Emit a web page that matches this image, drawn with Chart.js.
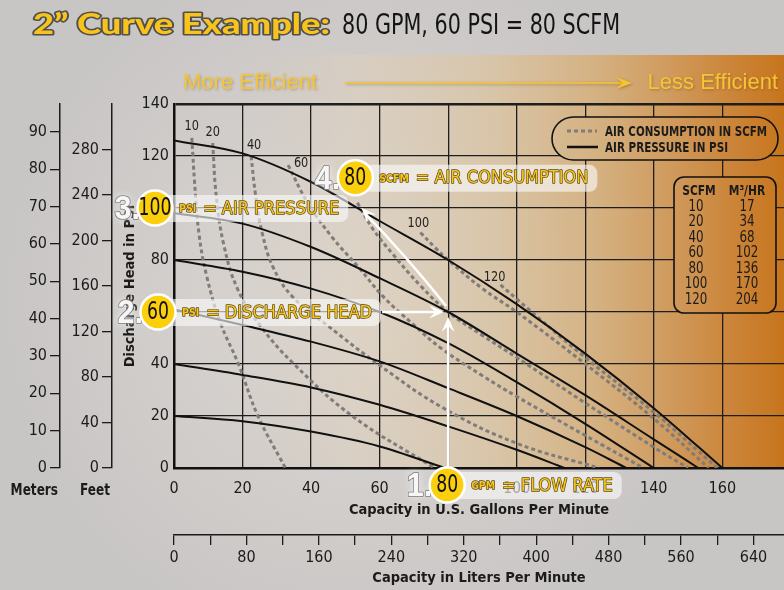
<!DOCTYPE html>
<html>
<head>
<meta charset="utf-8">
<title>2" Curve Example</title>
<script src="https://cdn.jsdelivr.net/npm/chart.js@4/dist/chart.umd.min.js"></script>
<style>
  html, body { margin: 0; padding: 0; background: #c8c5c5; }
  #wrap { width: 784px; height: 590px; position: relative; }
  canvas { display: block; }
</style>
</head>
<body>
<div id="wrap"><canvas id="curve" width="784" height="590"></canvas></div>
<script>
// ---------------- data ----------------
const GPM_MAX = 178;          // visible capacity range, U.S. GPM
const PSI_MAX = 140;          // discharge head range, PSI
const FT_MAX = 320;           // same head in feet
const M_MAX = 97.5;           // same head in meters
const LPM_PER_GPM = 3.785;

const gpmTicks   = [0, 20, 40, 60, 80, 100, 120, 140, 160];
const psiTicks   = [0, 20, 40, 60, 80, 100, 120, 140];
const feetTicks  = [0, 40, 80, 120, 160, 200, 240, 280];
const meterTicks = [0, 10, 20, 30, 40, 50, 60, 70, 80, 90];
const literTicks = [0, 40, 80, 120, 160, 200, 240, 280, 320, 360, 400, 440, 480, 520, 560, 600, 640];
const literLabelEvery = 80;

// Air pressure curves (solid), points are [GPM, PSI head]
const airPressureLevels = [20, 40, 60, 80, 100, 120];
const air20  = [[0, 20], [20, 18], [40, 14], [60, 8.3], [79, 0]];
const air40  = [[0, 40], [20, 35.8], [40, 31], [60, 24.3], [80, 16], [100, 7], [114, 0]];
const air60  = [[0, 61], [20, 55], [40, 48.6], [60, 41], [80, 30.7], [100, 20], [120, 8], [132, 0]];
const air80  = [[0, 80], [20, 75.5], [40, 69], [60, 60], [80, 48], [100, 33], [120, 17], [140, 0]];
const air100 = [[0, 98], [20, 94], [40, 85], [60, 73], [80, 60], [100, 44], [120, 28], [140, 11], [153, 0]];
const air120 = [[0, 126], [20, 121], [40, 110], [60, 95], [80, 80], [100, 63], [120, 44], [140, 23], [160, 0]];

// Air consumption curves (dotted), points are [GPM, PSI head]
const scfmLevels = [10, 20, 40, 60, 80, 100, 120];
const scfm10  = [[5.2, 127], [6, 110], [7.3, 90], [9.5, 74], [13.5, 56], [18.8, 40], [24.5, 20], [32.5, 0]];
const scfm20  = [[11.3, 125], [12.3, 105], [14.5, 86], [18.5, 69], [25, 55], [35, 40], [52, 20], [76, 0]];
const scfm40  = [[22.5, 120], [23.8, 105], [25.8, 90], [29, 77], [34.5, 66], [44.6, 55], [60, 39.5], [78, 23.5], [100, 9.5], [124, 0]];
const scfm60  = [[33.3, 116.5], [39, 102], [46, 89], [54, 77], [61, 66], [70, 55], [78, 46], [90, 35.5], [100, 27.5], [120, 12.5], [137, 0]];
const scfm80  = [[53.5, 102], [58, 92], [64, 82], [72, 70], [80, 60], [90, 51], [100, 42.5], [120, 25], [140, 8], [150, 0]];
const scfm100 = [[71.9, 90.6], [76, 85], [80, 80], [90, 69], [100, 60], [120, 40], [140, 19], [156, 0]];
const scfm120 = [[95.3, 70.4], [100, 65], [120, 42.5], [140, 21.5], [158.5, 0]];

// SCFM to cubic metres per hour table
const tableScfm = [10, 20, 40, 60, 80, 100, 120];
const tableM3hr = [17, 34, 68, 102, 136, 170, 204];

// Worked example: 80 GPM at 60 PSI head needs 100 PSI air and 80 SCFM
const exampleGpm = 80;
const exampleHeadPsi = 60;
const exampleAirPsi = 100;
const exampleScfm = 80;

const legendItems = ['AIR CONSUMPTION IN SCFM', 'AIR PRESSURE IN PSI'];

// ---------------- styles ----------------
const NARROW = "'Liberation Sans Narrow', 'DejaVu Sans Condensed', 'Liberation Sans', Arial, sans-serif";
const SQUEEZE = 0.84;          // horizontal squeeze for hand-drawn condensed text
const INK = '#1b1b1b';
const DOT_COLOR = '#7f7c7a';
const YELLOW = '#f6c61e';
const YELLOW_EDGE = '#5d4a1c';

const airSets  = [air20, air40, air60, air80, air100, air120];
const scfmSets = [scfm10, scfm20, scfm40, scfm60, scfm80, scfm100, scfm120];
// label nudges for the SCFM curve names, relative to each curve's first point
const scfmLabelNudge = { 10: [0, -11], 20: [0, -11], 40: [3, -11], 60: [13, -2], 100: [-2, -9], 120: [-6, -8] };

const toPts = arr => arr.map(([x, y]) => ({ x, y }));

const datasets = [];
airSets.forEach((set, i) => datasets.push({
  label: airPressureLevels[i] + ' PSI air',
  data: toPts(set),
  borderColor: '#111',
  borderWidth: 2,
  pointRadius: 0,
  cubicInterpolationMode: 'monotone',
  fill: false,
  xAxisID: 'x', yAxisID: 'y'
}));
scfmSets.forEach((set, i) => datasets.push({
  label: scfmLevels[i] + ' SCFM',
  data: toPts(set),
  borderColor: DOT_COLOR,
  borderWidth: 3,
  borderDash: [4, 3],
  borderCapStyle: 'butt',
  pointRadius: 0,
  tension: 0.4,
  fill: false,
  xAxisID: 'x', yAxisID: 'y'
}));

// ---------------- drawing helpers ----------------
function paintBackground(ctx, w, h) {
  ctx.fillStyle = '#c8c5c5';
  ctx.fillRect(0, 0, w, h);
  const glow = ctx.createRadialGradient(360, 300, 20, 360, 300, 360);
  glow.addColorStop(0, 'rgba(228,222,214,0.75)');
  glow.addColorStop(1, 'rgba(228,222,214,0)');
  ctx.fillStyle = glow;
  ctx.fillRect(0, 0, w, h);
  const band = ctx.createLinearGradient(0, 0, w, 0);
  band.addColorStop(0.00, 'rgba(205,200,198,0)');
  band.addColorStop(0.26, 'rgba(208,202,198,0)');
  band.addColorStop(0.45, 'rgba(221,207,188,0.55)');
  band.addColorStop(0.62, 'rgba(218,197,165,0.85)');
  band.addColorStop(0.76, 'rgba(213,176,126,0.95)');
  band.addColorStop(0.87, 'rgba(207,150,86,1)');
  band.addColorStop(0.94, 'rgba(203,131,54,1)');
  band.addColorStop(1.00, 'rgba(199,117,28,1)');
  ctx.fillStyle = band;
  ctx.fillRect(0, 55, w, 414);
}

// condensed text: squeezes horizontally around the anchor
function narrowText(ctx, text, x, y, align, k, stroke) {
  const w = ctx.measureText(text).width * k;
  const left = align === 'center' ? x - w / 2 : align === 'right' ? x - w : x;
  ctx.save();
  ctx.textAlign = 'left';
  ctx.translate(left, y);
  ctx.scale(k, 1);
  if (stroke) ctx.strokeText(text, 0, 0);
  ctx.fillText(text, 0, 0);
  ctx.restore();
  return w;
}

function fitText(ctx, text, x, y, width, stroke) {
  const m = ctx.measureText(text).width;
  return narrowText(ctx, text, x, y, 'left', width / m, stroke);
}

function arrowHead(ctx, tx, ty, ang, len, half) {
  const c = Math.cos(ang), s = Math.sin(ang);
  const pt = (a, b) => [tx - a * c + b * s, ty - a * s - b * c];
  ctx.beginPath();
  ctx.moveTo(tx, ty);
  ctx.lineTo(...pt(len, half));
  ctx.lineTo(...pt(len * 0.6, 0));
  ctx.lineTo(...pt(len, -half));
  ctx.closePath();
  ctx.fill();
}

function drawCallout(ctx, step, value, unit, text, cx, cy) {
  const UNIT_FONT = 'bold 11px ' + NARROW;
  const MAIN_FONT = '18px ' + NARROW;
  const MAIN_K = 1.0;
  ctx.save();
  ctx.font = UNIT_FONT;
  const uw = ctx.measureText(unit).width * 0.95;
  ctx.font = MAIN_FONT;
  const mw = ctx.measureText(text).width * MAIN_K;
  const ux = cx + 24, mx = ux + uw + 7, right = mx + mw + 9;
  ctx.fillStyle = 'rgba(250,250,250,0.62)';
  ctx.beginPath();
  ctx.roundRect(cx, cy - 13, right - cx, 27, 8);
  ctx.fill();

  ctx.textBaseline = 'middle';
  ctx.lineJoin = 'round';
  ctx.strokeStyle = YELLOW_EDGE;
  ctx.fillStyle = YELLOW;
  ctx.font = UNIT_FONT;
  ctx.lineWidth = 1.5;
  narrowText(ctx, unit, ux, cy + 1, 'left', 0.95, true);
  ctx.font = MAIN_FONT;
  ctx.lineWidth = 1.4;
  narrowText(ctx, text, mx, cy + 1, 'left', MAIN_K, true);

  // step numeral with a soft halo
  ctx.font = 'bold 34px "Liberation Sans", Arial, sans-serif';
  ctx.shadowColor = 'rgba(255,255,255,0.85)';
  ctx.shadowBlur = 8;
  ctx.fillStyle = '#f7f7f7';
  narrowText(ctx, step, cx - 15, cy + 2, 'right', 0.9, false);
  ctx.shadowBlur = 0;
  ctx.strokeStyle = '#7c7c7c';
  ctx.lineWidth = 1.6;
  narrowText(ctx, step, cx - 15, cy + 2, 'right', 0.9, true);

  // numbered disc
  ctx.beginPath();
  ctx.arc(cx, cy, 17.5, 0, Math.PI * 2);
  ctx.fillStyle = '#fccf0c';
  ctx.fill();
  ctx.lineWidth = 2.5;
  ctx.strokeStyle = '#ffffff';
  ctx.stroke();
  ctx.fillStyle = '#111';
  ctx.font = '24px ' + NARROW;
  narrowText(ctx, String(value), cx, cy + 1, 'center', 0.8, false);
  ctx.restore();
  return right;
}

// ---------------- plugins ----------------
const backdrop = {
  id: 'backdrop',
  beforeDraw(chart) {
    const { ctx, width, height, chartArea: ca } = chart;
    ctx.save();
    paintBackground(ctx, width, height);

    // heading
    ctx.textBaseline = 'alphabetic';
    ctx.font = '900 28px Lato, "DejaVu Sans", sans-serif';
    ctx.lineJoin = 'round';
    ctx.lineWidth = 3;
    ctx.strokeStyle = '#4f4f4f';
    ctx.fillStyle = '#f7c31c';
    fitText(ctx, '2\u201D Curve Example:', 33, 34, 297, true);
    ctx.fillStyle = '#141414';
    ctx.font = '28px ' + NARROW;
    fitText(ctx, '80 GPM, 60 PSI = 80 SCFM', 342, 34, 278, false);

    // efficiency banner
    const by = ca.top - 21;
    ctx.shadowColor = 'rgba(70,45,10,0.35)';
    ctx.shadowBlur = 3;
    ctx.shadowOffsetX = 1;
    ctx.shadowOffsetY = 1;
    ctx.fillStyle = '#f7c434';
    ctx.strokeStyle = '#f7c434';
    ctx.font = '22px "Liberation Sans", Arial, sans-serif';
    ctx.textBaseline = 'middle';
    ctx.textAlign = 'left';
    ctx.fillText('More Efficient', ca.left + 9, by);
    ctx.textAlign = 'right';
    ctx.fillText('Less Efficient', ca.right - 6, by);
    ctx.lineWidth = 1.6;
    ctx.beginPath();
    ctx.moveTo(ca.left + 171, by);
    ctx.lineTo(ca.left + 450, by);
    ctx.stroke();
    arrowHead(ctx, ca.left + 458, by, 0, 16, 6);
    ctx.restore();
  },
  afterDraw(chart) {
    const { ctx, chartArea: ca, scales } = chart;
    const X = scales.x, Y = scales.y;
    const px = (g, p) => [X.getPixelForValue(g), Y.getPixelForValue(p)];
    ctx.save();

    // unit captions under the head axes
    ctx.fillStyle = INK;
    ctx.font = 'bold 16px ' + NARROW;
    ctx.textBaseline = 'middle';
    narrowText(ctx, 'Meters', scales.yM.right - 2, ca.bottom + 23, 'right', SQUEEZE, false);
    narrowText(ctx, 'Feet', scales.yFt.right - 2, ca.bottom + 23, 'right', SQUEEZE, false);

    // SCFM curve names
    ctx.font = '14px ' + NARROW;
    ctx.fillStyle = '#222';
    scfmSets.forEach((set, i) => {
      const nudge = scfmLabelNudge[scfmLevels[i]];
      if (!nudge) return;
      const [x0, y0] = px(set[0][0], set[0][1]);
      narrowText(ctx, String(scfmLevels[i]), x0 + nudge[0], y0 + nudge[1], 'center', 0.9, false);
    });

    // legend capsule and table, filled with the backdrop so grid stops at their edges
    const pill = new Path2D();
    pill.roundRect(ca.right - 232, ca.top + 13, 226, 43, 21.5);
    const table = new Path2D();
    table.roundRect(ca.right - 110, ca.top + 73, 102, 136, 10);
    [pill, table].forEach(p => {
      ctx.save();
      ctx.clip(p);
      paintBackground(ctx, chart.width, chart.height);
      ctx.restore();
      ctx.lineWidth = 1.6;
      ctx.strokeStyle = '#111';
      ctx.stroke(p);
    });

    const lx = ca.right - 217, ly1 = ca.top + 27, ly2 = ca.top + 43;
    ctx.lineWidth = 3;
    ctx.strokeStyle = DOT_COLOR;
    ctx.setLineDash([4, 3]);
    ctx.beginPath(); ctx.moveTo(lx, ly1); ctx.lineTo(lx + 30, ly1); ctx.stroke();
    ctx.setLineDash([]);
    ctx.lineWidth = 2.5;
    ctx.strokeStyle = '#111';
    ctx.beginPath(); ctx.moveTo(lx, ly2); ctx.lineTo(lx + 31, ly2); ctx.stroke();
    ctx.font = 'bold 14px ' + NARROW;
    ctx.fillStyle = INK;
    fitText(ctx, legendItems[0], lx + 38, ly1 + 1, 162, false);
    fitText(ctx, legendItems[1], lx + 38, ly2 + 1, 123, false);

    const c1 = ca.right - 88, c2 = ca.right - 37;
    ctx.font = 'bold 14px ' + NARROW;
    narrowText(ctx, 'SCFM', c1 + 3, ca.top + 87, 'center', 0.85, false);
    narrowText(ctx, 'M\u00B3/HR', c2, ca.top + 87, 'center', 0.85, false);
    ctx.font = '15px ' + NARROW;
    tableScfm.forEach((v, i) => {
      const ry = ca.top + 103 + i * 15.5;
      narrowText(ctx, String(v), c1, ry, 'center', 0.88, false);
      narrowText(ctx, String(tableM3hr[i]), c2, ry, 'center', 0.88, false);
    });

    // worked example: arrows
    const [ex, ey] = px(exampleGpm, exampleHeadPsi);
    ctx.strokeStyle = '#ffffff';
    ctx.fillStyle = '#ffffff';
    ctx.lineWidth = 2.5;
    ctx.beginPath(); ctx.moveTo(ex, ca.bottom + 2); ctx.lineTo(ex, ey + 12); ctx.stroke();
    arrowHead(ctx, ex, ey + 5, -Math.PI / 2, 15, 6.5);

    const headY = Y.getPixelForValue(exampleHeadPsi);
    const headX = Y.left + 46;
    const airY = Y.getPixelForValue(exampleAirPsi);
    const airX = Y.left + 43;
    const s0 = px(scfm80[0][0], scfm80[0][1]);
    const ctrl = px(67.5, 82);
    const tip = [s0[0] + 4, s0[1] + 5];
    ctx.beginPath();
    ctx.moveTo(ex - 2, ey - 6);
    ctx.quadraticCurveTo(ctrl[0], ctrl[1], tip[0] + 4, tip[1] + 6);
    ctx.stroke();
    arrowHead(ctx, tip[0], tip[1], Math.atan2(tip[1] - ctrl[1], tip[0] - ctrl[0]), 15, 6);

    // callouts
    drawCallout(ctx, '1.', exampleGpm, 'GPM', '= FLOW RATE', ex - 1, ca.bottom + 17);
    const r2 = drawCallout(ctx, '2.', exampleHeadPsi, 'PSI', '= DISCHARGE HEAD', headX, headY);
    ctx.strokeStyle = '#ffffff';
    ctx.fillStyle = '#ffffff';
    ctx.lineWidth = 2.5;
    ctx.beginPath(); ctx.moveTo(r2 + 1, headY); ctx.lineTo(ex - 12, headY); ctx.stroke();
    arrowHead(ctx, ex - 4, headY, 0, 15, 6.5);
    drawCallout(ctx, '3.', exampleAirPsi, 'PSI', '= AIR PRESSURE', airX, airY);
    drawCallout(ctx, '4.', exampleScfm, 'SCFM', '= AIR CONSUMPTION', s0[0] - 2, s0[1] - 25);
    ctx.restore();
  }
};

const keepTicks = list => scale => { scale.ticks = list.map(v => ({ value: v })); };
const tickFont = { family: NARROW, size: 16 };
const titleFont = { family: NARROW, size: 14.5, weight: 'bold' };

new Chart(document.getElementById('curve'), {
  type: 'line',
  data: { datasets },
  options: {
    responsive: false,
    animation: false,
    devicePixelRatio: 1,
    events: [],
    layout: { padding: { top: 104, left: 0, right: 0, bottom: 0 } },
    plugins: { legend: { display: false }, tooltip: { enabled: false } },
    scales: {
      x: {
        type: 'linear', position: 'bottom', weight: 0, min: 0, max: GPM_MAX,
        afterBuildTicks: keepTicks(gpmTicks),
        afterFit: s => { s.height = 67; },
        grid: { color: '#1e1e1e', lineWidth: 1.3, drawTicks: false },
        border: { display: true, color: '#111', width: 2.5 },
        ticks: { color: INK, font: tickFont, padding: 11, maxRotation: 0, autoSkip: false },
        title: { display: true, text: 'Capacity in U.S. Gallons Per Minute', color: INK,
                 font: titleFont, padding: { top: 0, bottom: 16 } }
      },
      xL: {
        type: 'linear', position: 'bottom', weight: 1, min: 0, max: GPM_MAX * LPM_PER_GPM,
        afterBuildTicks: keepTicks(literTicks),
        afterFit: s => { s.height = 55; },
        grid: { drawOnChartArea: false, drawTicks: true, tickLength: 10, color: INK, lineWidth: 1.3 },
        border: { display: true, color: INK, width: 1.5 },
        ticks: { color: INK, font: tickFont, padding: 3, maxRotation: 0, autoSkip: false,
                 callback: v => (v % literLabelEvery === 0 ? String(v) : '') },
        title: { display: true, text: 'Capacity in Liters Per Minute', color: INK,
                 font: titleFont, padding: { top: 0, bottom: 3 } }
      },
      y: {
        type: 'linear', position: 'left', weight: 0, min: 0, max: PSI_MAX,
        afterBuildTicks: keepTicks(psiTicks),
        afterFit: s => { s.width = 62; },
        grid: { color: '#1e1e1e', lineWidth: c => (c.tick && c.tick.value === PSI_MAX ? 2.6 : 1.3), drawTicks: false },
        border: { display: true, color: '#111', width: 2.5 },
        ticks: { color: INK, font: tickFont, padding: 5 },
        title: { display: true, text: 'Discharge Head in PSI', color: INK,
                 font: titleFont, padding: { top: 10, bottom: 0 } }
      },
      yFt: {
        type: 'linear', position: 'left', weight: 1, min: 0, max: FT_MAX,
        afterBuildTicks: keepTicks(feetTicks),
        afterFit: s => { s.width = 52; },
        grid: { drawOnChartArea: false, drawTicks: true, tickLength: 10, color: INK, lineWidth: 1.3 },
        border: { display: true, color: INK, width: 1.5 },
        ticks: { color: INK, font: tickFont, padding: 3 }
      },
      yM: {
        type: 'linear', position: 'left', weight: 2, min: 0, max: M_MAX,
        afterBuildTicks: keepTicks(meterTicks),
        afterFit: s => { s.width = 60; },
        grid: { drawOnChartArea: false, drawTicks: true, tickLength: 10, color: INK, lineWidth: 1.3 },
        border: { display: true, color: INK, width: 1.5 },
        ticks: { color: INK, font: tickFont, padding: 3 }
      }
    }
  },
  plugins: [backdrop]
});
</script>
</body>
</html>
